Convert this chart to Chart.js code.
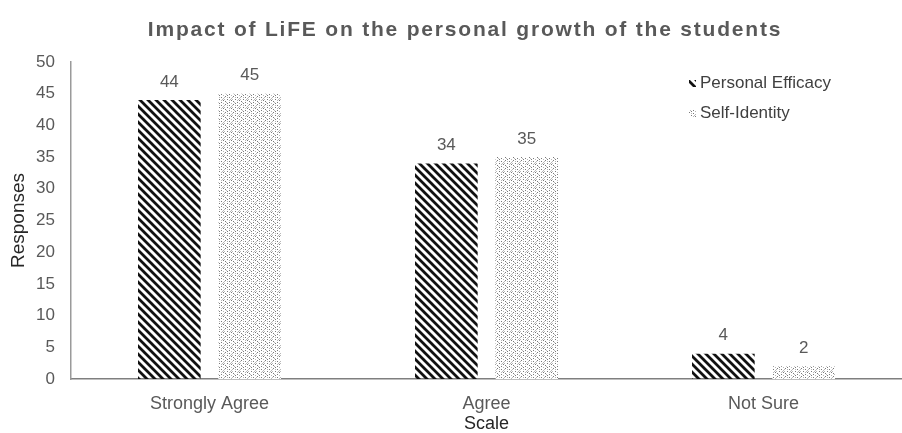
<!DOCTYPE html>
<html>
<head>
<meta charset="utf-8">
<script src="https://cdn.jsdelivr.net/npm/chart.js@4.4.1/dist/chart.umd.min.js"></script>
<style>
  html, body { margin: 0; padding: 0; background: #fff; }
  #wrap { width: 902px; height: 433px; position: relative; }
</style>
</head>
<body>
<div id="wrap"><canvas id="growthChart"></canvas></div>
<script>
const categories = ["Strongly Agree", "Agree", "Not Sure"];
const seriesNames = ["Personal Efficacy", "Self-Identity"];
const personalEfficacy = [44, 34, 4];
const selfIdentity = [45, 35, 2];
const yTicks = [0, 5, 10, 15, 20, 25, 30, 35, 40, 45, 50];

const chartTitle = "Impact of LiFE on the personal growth of the students";
const FONT = "'Liberation Sans', Arial, sans-serif";
const labelGray = "#595959";

// diagonal hatch, lines running top-left to bottom-right
function makeStripes() {
  const c = document.createElement("canvas");
  c.width = 8; c.height = 8;
  const g = c.getContext("2d");
  g.strokeStyle = "#111";
  g.lineWidth = 2.8;
  g.beginPath();
  g.moveTo(-2, -2); g.lineTo(10, 10);
  g.moveTo(-10, -2); g.lineTo(2, 10);
  g.moveTo(6, -2); g.lineTo(18, 10);
  g.stroke();
  return g.createPattern(c, "repeat");
}

// light stipple
function makeDots() {
  const c = document.createElement("canvas");
  c.width = 8; c.height = 8;
  const g = c.getContext("2d");
  g.fillStyle = "#fff";
  g.fillRect(0, 0, 8, 8);
  const dark = [[1, 0], [5, 1], [3, 3], [7, 4], [1, 5], [5, 6], [3, 7]];
  const light = [[3, 1], [7, 2], [0, 3], [5, 4], [2, 6], [7, 7], [0, 1], [6, 3]];
  g.fillStyle = "#7a7a7a";
  dark.forEach(([x, y]) => g.fillRect(x, y, 1, 1));
  g.fillStyle = "#b8b8b8";
  light.forEach(([x, y]) => g.fillRect(x, y, 1, 1));
  return g.createPattern(c, "repeat");
}

const stripes = makeStripes();
const dots = makeDots();

const valueLabels = {
  id: "valueLabels",
  afterDatasetsDraw(chart) {
    const ctx = chart.ctx;
    ctx.save();
    ctx.font = "17px " + FONT;
    ctx.fillStyle = labelGray;
    ctx.textAlign = "center";
    ctx.textBaseline = "middle";
    chart.data.datasets.forEach((ds, i) => {
      chart.getDatasetMeta(i).data.forEach((bar, j) => {
        ctx.fillText(ds.data[j], bar.x, bar.y - 18);
      });
    });
    ctx.restore();
  }
};

const titleAndLegend = {
  id: "titleAndLegend",
  afterDraw(chart) {
    const ctx = chart.ctx;
    ctx.save();
    ctx.font = "bold 21px " + FONT;
    ctx.letterSpacing = "1.8px";
    ctx.fillStyle = labelGray;
    ctx.textAlign = "center";
    ctx.textBaseline = "middle";
    ctx.fillText(chartTitle, 465, 30);
    ctx.letterSpacing = "0px";

    ctx.font = "17px " + FONT;
    ctx.textAlign = "left";
    chart.data.datasets.forEach((ds, i) => {
      const y = 83 + i * 30;
      ctx.fillStyle = ds.backgroundColor;
      ctx.fillRect(689, y - 3, 7, 7);
      ctx.fillStyle = "#404040";
      ctx.fillText(ds.label, 700, y);
    });
    ctx.restore();
  }
};

new Chart(document.getElementById("growthChart"), {
  type: "bar",
  data: {
    labels: categories,
    datasets: [
      {
        label: seriesNames[0],
        data: personalEfficacy,
        backgroundColor: stripes,
        categoryPercentage: 0.58,
        barPercentage: 0.78
      },
      {
        label: seriesNames[1],
        data: selfIdentity,
        backgroundColor: dots,
        categoryPercentage: 0.58,
        barPercentage: 0.78
      }
    ]
  },
  options: {
    responsive: true,
    maintainAspectRatio: false,
    animation: false,
    layout: { padding: { top: 62, right: 0, bottom: 0, left: 0 } },
    plugins: {
      legend: { display: false },
      title: { display: false },
      tooltip: { enabled: false }
    },
    scales: {
      x: {
        grid: { display: false, drawTicks: false },
        border: { display: true, color: "#7f7f7f", width: 1.5 },
        ticks: {
          color: labelGray,
          font: { family: FONT, size: 18 },
          padding: 14
        },
        title: {
          display: true,
          text: "Scale",
          color: "#262626",
          font: { family: FONT, size: 18 },
          padding: { top: 0, bottom: -2 }
        },
        afterFit(scale) { scale.height = 54; }
      },
      y: {
        min: 0,
        max: 50,
        afterBuildTicks(scale) {
          scale.ticks = yTicks.map(v => ({ value: v }));
        },
        grid: { display: false, drawTicks: false },
        border: { display: true, color: "#9a9a9a", width: 1.5 },
        ticks: {
          color: labelGray,
          font: { family: FONT, size: 17 },
          padding: 16
        },
        title: {
          display: true,
          text: "Responses",
          color: "#262626",
          font: { family: FONT, size: 19 },
          padding: { top: 7, bottom: 0 }
        },
        afterFit(scale) { scale.width = 71; }
      }
    }
  },
  plugins: [valueLabels, titleAndLegend]
});
</script>
</body>
</html>
